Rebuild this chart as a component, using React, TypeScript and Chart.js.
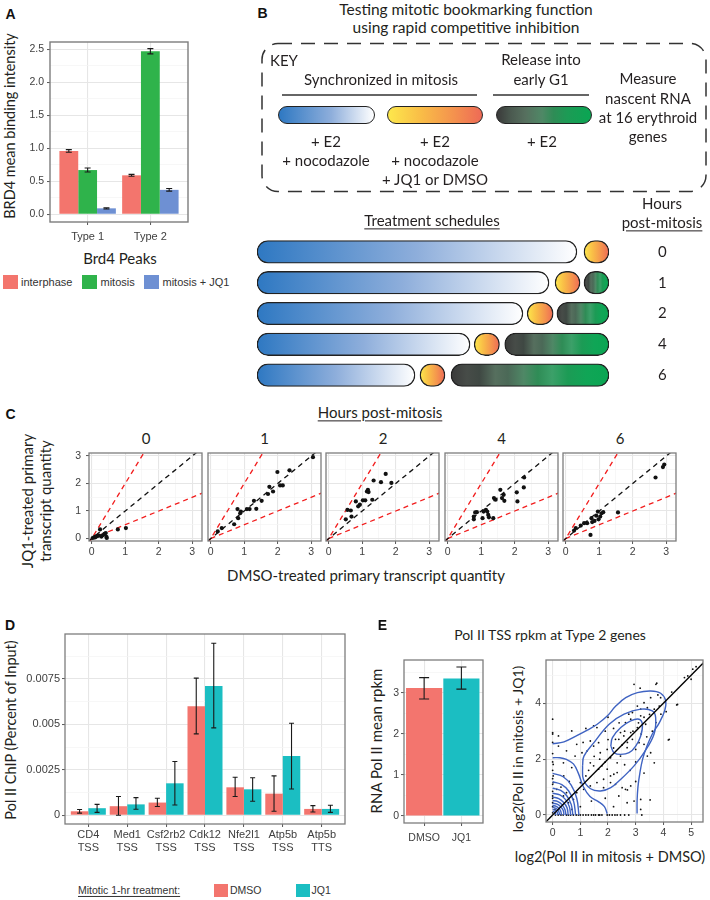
import React, { useEffect, useRef } from 'react';
import { Chart, registerables } from 'chart.js';

Chart.register(...registerables);

const MY = "Lato, 'Open Sans', sans-serif";
const AR = "'Liberation Sans', Arial, Helvetica, sans-serif";
const INK = '#231f20';
const GRID_MAJOR = '#e6e6e6';
const GRID_MINOR = '#f3f3f3';
const TICK_MARK = '#555555';
const TICK_TXT = '#404040';
const BOX_COL = '#7d7d7d';

// ---------------- Panel A data ----------------
const peakTypes = ['Type 1', 'Type 2'];
const interphaseMean = [0.96, 0.59];
const interphaseErr = [0.02, 0.015];
const mitosisMean = [0.67, 2.47];
const mitosisErr = [0.03, 0.04];
const mitosisJQ1Mean = [0.09, 0.37];
const mitosisJQ1Err = [0.01, 0.02];
const brd4Major = [0, 0.5, 1, 1.5, 2, 2.5];
const brd4Minor = [0.25, 0.75, 1.25, 1.75, 2.25];
const COL_INTER = '#f3756d';
const COL_MIT = '#2fb34b';
const COL_JQ1A = '#6e90d3';

// ---------------- Panel B data (hours along schedule) ----------------
const scheduleHours = ['0', '1', '2', '4', '6'];
const syncStart = [0, 0, 0, 0, 0];
const syncEnd = [12.27, 11.2, 10.2, 8.17, 6.06];
const inhibStart = [12.54, 11.43, 10.36, 8.33, 6.25];
const inhibEnd = [13.5, 12.39, 11.36, 9.3, 7.21];
const releaseStart = [null, 12.54, 11.5, 9.5, 7.44];
const releaseEnd = [null, 13.5, 13.5, 13.5, 13.5];

// ---------------- Panel C data ----------------
const facetHours = ['0', '1', '2', '4', '6'];
const dmsoH0 = [0.03, 0.08, 0.1, 0.12, 0.15, 0.18, 0.22, 0.25, 0.29, 0.33, 0.38, 0.42, 0.44, 0.45, 0.78, 1.02];
const jq1H0 = [0.02, 0.05, 0.04, 0.07, 0.08, 0.1, 0.11, 0.33, 0.07, 0.12, 0.17, 0.2, 0.06, 0.02, 0.33, 0.38];
const dmsoH1 = [0.21, 0.33, 0.7, 0.82, 0.8, 0.9, 0.88, 1.08, 1.16, 1.29, 1.36, 1.52, 1.71, 1.75, 1.86, 2.07, 2.15, 1.99, 2.35, 3.05];
const jq1H1 = [0.26, 0.38, 0.52, 0.74, 1.07, 0.98, 0.92, 1.07, 1.07, 1.37, 1.08, 1.37, 1.62, 1.88, 1.71, 1.93, 1.93, 2.42, 2.48, 2.96];
const dmsoH2 = [0.51, 0.56, 0.66, 0.68, 0.81, 0.88, 0.93, 1.02, 1.09, 1.14, 1.17, 1.19, 1.3, 1.34, 1.56, 1.7, 1.87];
const jq1H2 = [0.7, 1.04, 1.02, 0.8, 1.35, 1.17, 1.23, 1.39, 1.39, 1.71, 1.77, 1.69, 1.41, 2.11, 2.05, 2.35, 2.02];
const dmsoH4 = [0.78, 0.82, 0.87, 0.78, 1.04, 1.07, 1.14, 1.18, 1.21, 1.23, 1.36, 1.38, 1.43, 1.57, 1.62, 1.67, 1.69, 2.06, 2.08, 2.27, 2.28];
const jq1H4 = [0.8, 0.95, 0.96, 0.7, 0.74, 0.98, 1.04, 0.98, 0.86, 0.77, 0.74, 1.47, 1.41, 1.77, 1.47, 1.59, 1.37, 1.68, 1.35, 1.86, 2.22];
const dmsoH6 = [0.25, 0.3, 0.45, 0.55, 0.64, 0.77, 0.79, 0.86, 0.91, 0.96, 0.98, 1.03, 1.07, 1.12, 0.74, 1.56, 2.68, 2.9, 2.94];
const jq1H6 = [0.29, 0.38, 0.47, 0.56, 0.56, 0.74, 0.6, 0.64, 0.83, 0.98, 0.7, 0.8, 0.92, 0.96, 0.13, 0.95, 2.22, 2.6, 2.69];
const facetDMSO = [dmsoH0, dmsoH1, dmsoH2, dmsoH4, dmsoH6];
const facetJQ1 = [jq1H0, jq1H1, jq1H2, jq1H4, jq1H6];
const refSlopes = [2, 1, 0.5];
const refLineX = [-0.5, 3.6];
const cMajor = [0, 1, 2, 3];
const cMinor = [0.5, 1.5, 2.5];

// ---------------- Panel D data ----------------
const chipSites = [['CD4', 'TSS'], ['Med1', 'TSS'], ['Csf2rb2', 'TSS'], ['Cdk12', 'TSS'], ['Nfe2l1', 'TSS'], ['Atp5b', 'TSS'], ['Atp5b', 'TTS']];
const chipDMSO = [0.00022, 0.0005, 0.0007, 0.006, 0.00154, 0.00119, 0.00035];
const chipDMSOLo = [0.00012, 0.0, 0.00048, 0.00448, 0.00103, 0.00022, 0.00018];
const chipDMSOHi = [0.00032, 0.00103, 0.00094, 0.00755, 0.00209, 0.00217, 0.00053];
const chipJQ1 = [0.00039, 0.0006, 0.00176, 0.00712, 0.00143, 0.00327, 0.00035];
const chipJQ1Lo = [0.00016, 0.00033, 0.00057, 0.00481, 0.00077, 0.00145, 0.00016];
const chipJQ1Hi = [0.0006, 0.00097, 0.00296, 0.00947, 0.00207, 0.00507, 0.00055];
const chipYTicks = [0, 0.0025, 0.005, 0.0075];
const chipYTickLabels = ['0', '0.0025', '0.005', '0.0075'];
const chipYMinor = [0.00125, 0.00375, 0.00625, 0.00875];
const COL_DMSO = '#f3756e';
const COL_JQ1 = '#1bbec2';

// ---------------- Panel E data ----------------
const rpkmGroups = ['DMSO', 'JQ1'];
const rpkmMean = [3.12, 3.35];
const rpkmLo = [2.85, 3.09];
const rpkmHi = [3.37, 3.63];

// log2 Pol II TSS rpkm per gene: [DMSO, JQ1]
const polScatter = [
  [5.18, 5.31], [5.06, 5.22], [4.88, 4.98], [4.76, 4.92], [5.0, 4.86], [4.51, 3.96], [4.21, 2.71], [3.73, 4.68], [2.94, 4.68], [3.54, 4.2],
  [3.3, 4.02], [3.42, 3.84], [3.18, 3.79], [3.06, 3.9], [2.88, 3.67], [2.75, 3.61], [2.82, 3.43], [2.63, 3.31], [3.18, 3.55], [3.67, 3.79],
  [3.85, 3.9], [3.91, 3.61], [3.73, 3.31], [3.36, 3.25], [3.06, 3.13], [2.82, 2.95], [2.57, 2.83], [2.45, 2.95], [2.39, 2.71], [2.27, 2.71],
  [2.88, 2.71], [3.12, 2.59], [3.3, 2.53], [3.0, 2.35], [2.69, 2.41], [3.54, 2.23], [3.42, 2.11], [3.67, 1.87], [2.45, 2.11], [2.33, 1.87],
  [2.09, 2.05], [1.97, 2.35], [1.72, 2.23], [1.48, 2.47], [1.66, 2.59], [1.36, 2.65], [1.48, 3.19], [1.6, 3.13], [0.69, 3.01], [0.87, 2.53],
  [0.21, 2.83], [0.0, 3.43], [0.0, 2.95], [0.21, 2.47], [0.02, 1.81], [0.39, 1.87], [0.69, 1.7], [0.81, 2.11], [1.06, 2.23], [1.24, 2.29],
  [1.36, 1.87], [1.48, 1.76], [1.66, 1.64], [1.78, 1.76], [1.97, 1.64], [2.09, 1.4], [2.21, 1.46], [2.33, 1.52], [1.84, 1.28], [2.09, 1.16],
  [2.27, 1.1], [2.51, 0.98], [2.63, 0.92], [2.82, 1.04], [2.39, 0.68], [2.69, 0.44], [3.18, 0.56], [2.94, 0.5], [1.84, 0.98], [1.6, 1.16],
  [1.36, 1.04], [1.12, 0.92], [1.0, 1.16], [0.87, 0.8], [0.75, 0.56], [0.57, 0.44], [0.39, 0.68], [0.15, 0.92], [0.02, 1.4], [0.02, 1.16],
  [0.0, 0.68], [0.0, 0.44], [0.08, 0.2], [0.0, 0.08], [0.1, 0], [0.2, 0], [0.3, 0], [0.38, 0], [0.5, 0], [0.57, 0],
  [0.65, 0], [0.75, 0], [0.85, 0], [0.93, 0], [1.0, 0], [1.1, 0], [1.2, 0], [1.29, 0], [1.4, 0], [1.48, 0],
  [1.55, 0], [1.66, 0], [1.7, 0], [1.78, 0], [1.97, 0], [2.05, 0], [2.15, 0], [2.25, 0], [2.33, 0], [2.45, 0],
  [2.6, 0], [2.75, 0], [3.22, 0], [3.18, 0.2], [3.16, 4.54], [3.76, 4.72], [4.48, 3.94], [4.18, 2.69], [3.52, 0.54], [0.0, 0.3],
  [0.0, 0.6], [0.0, 0.85], [0.0, 1.1], [0.0, 1.3], [0.0, 1.6], [0.0, 1.9], [0.0, 2.2], [0.0, 2.6], [0.0, 2.9], [2.5, 2.5],
  [2.7, 2.6], [2.6, 3.0], [2.9, 3.0], [3.1, 3.3], [3.3, 3.5], [3.5, 3.6], [2.2, 2.4], [2.0, 2.7], [1.9, 1.9], [1.7, 2.0],
  [1.5, 2.1], [1.3, 1.6], [1.2, 1.4], [2.6, 1.8], [2.8, 1.6], [3.0, 1.9], [3.2, 2.9], [3.4, 2.8], [3.6, 3.0], [2.4, 3.3],
  [2.2, 3.1], [1.9, 3.0], [1.1, 2.6], [0.5, 2.3], [0.4, 1.4], [0.6, 1.2], [0.3, 1.0], [0.5, 0.8], [1.4, 0.5], [1.9, 0.6],
  [2.2, 0.3], [1.0, 0.3], [0.7, 0.2], [3.9, 4.2], [4.1, 3.7], [3.8, 4.3], [4.3, 4.4], [2.0, 3.5], [1.2, 3.1], [2.7, 0.9],
  [3.0, 1.2], [3.3, 1.5],
];

// 2D density contour paths: [DMSO, JQ1]
const contourOuter = [[0, 2.55], [0.41, 2.62], [0.89, 2.85], [1.25, 3.04], [1.61, 3.25], [1.98, 3.55], [2.28, 3.9], [2.64, 4.2], [3.06, 4.38], [3.54, 4.44], [3.9, 4.36], [4.08, 4.1], [4.05, 3.75], [3.85, 3.3], [3.6, 2.9], [3.4, 2.45], [3.25, 2.0], [3.15, 1.5], [3.08, 1.0], [3.05, 0.5], [3.05, 0.05]];
const contourSecond = [[0, 2.05], [0.26, 2.05], [0.5, 1.99], [0.75, 1.83], [0.93, 1.49], [1.11, 1.01], [1.35, 0.66], [1.65, 0.48], [1.87, 0.3], [1.97, 0.05]];
const contourMiddle = [[1.08, 1.76], [1.13, 2.11], [1.49, 2.59], [2.04, 3.25], [2.58, 3.61], [3.18, 3.79], [3.6, 3.73], [3.72, 3.49], [3.66, 2.89], [3.3, 2.23], [2.94, 1.76], [2.46, 1.28], [2.1, 0.98], [1.73, 0.86], [1.37, 0.94], [1.11, 1.28], [1.08, 1.76]];
const contourInner = [[2.1, 2.47], [2.16, 2.77], [2.46, 3.13], [2.82, 3.37], [3.12, 3.43], [3.24, 3.25], [3.18, 2.83], [3.0, 2.47], [2.76, 2.23], [2.46, 2.17], [2.22, 2.23], [2.1, 2.47]];
const contourOrigin = [
  [[0, 1.49], [0.38, 1.37], [0.67, 1.07], [0.87, 0.6], [0.95, 0]],
  [[0, 1.19], [0.33, 1.09], [0.58, 0.86], [0.76, 0.48], [0.83, 0]],
  [[0, 0.96], [0.29, 0.88], [0.51, 0.69], [0.67, 0.38], [0.73, 0]],
  [[0, 0.78], [0.26, 0.72], [0.46, 0.56], [0.6, 0.31], [0.65, 0]],
  [[0, 0.64], [0.22, 0.59], [0.39, 0.46], [0.52, 0.26], [0.56, 0]],
  [[0, 0.52], [0.19, 0.48], [0.34, 0.37], [0.44, 0.21], [0.48, 0]],
  [[0, 0.42], [0.16, 0.39], [0.29, 0.3], [0.38, 0.17], [0.41, 0]],
  [[0, 0.34], [0.13, 0.31], [0.22, 0.24], [0.29, 0.14], [0.32, 0]],
  [[0, 0.27], [0.1, 0.25], [0.18, 0.19], [0.23, 0.11], [0.25, 0]],
  [[0, 0.2], [0.07, 0.18], [0.13, 0.14], [0.17, 0.08], [0.18, 0]],
  [[0, 0.13], [0.04, 0.12], [0.08, 0.09], [0.1, 0.05], [0.11, 0]],
];
const diagonalX = [-0.5, 5.8];
const CONTOUR = '#3f63c2';

// ---------------- plugins ----------------
const boxPlugin = {
  id: 'panelBox',
  afterDraw(chart: any, _a: any, opts: any) {
    if (!opts || !opts.color) return;
    const { ctx, chartArea: a } = chart;
    ctx.save();
    ctx.strokeStyle = opts.color;
    ctx.lineWidth = opts.width || 1;
    ctx.strokeRect(a.left, a.top, a.right - a.left, a.bottom - a.top);
    ctx.restore();
  },
};

const errorBarPlugin = {
  id: 'errorBars',
  afterDatasetsDraw(chart: any, _a: any, opts: any) {
    const { ctx } = chart;
    const ys = chart.scales.y;
    const cap = (opts && opts.cap) || 3;
    chart.data.datasets.forEach((ds: any, i: number) => {
      if (!ds.errLo) return;
      chart.getDatasetMeta(i).data.forEach((el: any, j: number) => {
        const lo = ds.errLo[j];
        const hi = ds.errHi[j];
        if (lo == null || hi == null) return;
        const x = el.x;
        const y1 = ys.getPixelForValue(lo);
        const y2 = ys.getPixelForValue(hi);
        ctx.save();
        ctx.strokeStyle = '#1a1a1a';
        ctx.lineWidth = 1.1;
        ctx.beginPath();
        ctx.moveTo(x, y1); ctx.lineTo(x, y2);
        ctx.moveTo(x - cap, y1); ctx.lineTo(x + cap, y1);
        ctx.moveTo(x - cap, y2); ctx.lineTo(x + cap, y2);
        ctx.stroke();
        ctx.restore();
      });
    });
  },
};

Chart.register(boxPlugin as any, errorBarPlugin as any);

// ---------------- helpers ----------------
type Box = { left: number; top: number; width: number; height: number };
type Plot = { x0: number; y0: number; x1: number; y1: number };
type Marg = { l: number; t: number; r: number; b: number };

const boxOf = (p: Plot, m: Marg): Box => ({
  left: p.x0 - m.l,
  top: p.y0 - m.t,
  width: p.x1 - p.x0 + m.l + m.r,
  height: p.y1 - p.y0 + m.t + m.b,
});
const padOf = (m: Marg) => ({ left: 0, top: m.t, right: m.r, bottom: 0 });

const common = { responsive: false, animation: false, events: [] as any[] };
const noLegend = { legend: { display: false }, tooltip: { enabled: false } };

function valueAxis(o: any) {
  const all = [...o.major, ...(o.minor || [])].sort((a: number, b: number) => a - b);
  const isMajor = (v: number) => o.major.some((m: number) => Math.abs(m - v) < 1e-9);
  const showTicks = o.showTicks !== false;
  return {
    type: 'linear',
    position: o.vertical ? 'left' : 'bottom',
    min: o.min,
    max: o.max,
    bounds: 'data',
    offset: false,
    afterBuildTicks: (ax: any) => {
      ax.ticks = all.map((v: number) => ({ value: v }));
    },
    afterFit: (s: any) => {
      if (o.vertical) s.width = o.size;
      else s.height = o.size;
      s.paddingTop = 0; s.paddingBottom = 0; s.paddingLeft = 0; s.paddingRight = 0;
    },
    border: { display: false },
    grid: {
      display: true,
      offset: false,
      drawTicks: true,
      tickLength: 3,
      tickWidth: 1,
      color: (c: any) => (c.tick && isMajor(c.tick.value) ? GRID_MAJOR : GRID_MINOR),
      lineWidth: (c: any) => (c.tick && isMajor(c.tick.value) ? 1.1 : 0.7),
      tickColor: (c: any) => (showTicks && c.tick && isMajor(c.tick.value) ? TICK_MARK : 'rgba(0,0,0,0)'),
    },
    ticks: {
      display: o.showLabels !== false,
      autoSkip: false,
      maxRotation: 0,
      minRotation: 0,
      padding: o.pad ?? 2,
      color: TICK_TXT,
      font: { family: AR, size: o.fontSize ?? 10 },
      callback: (v: number) => (isMajor(v) ? o.label(v) : ''),
    },
  };
}

function barSet(label: string, means: number[], lo: number[], hi: number[], color: any, pct = 0.9) {
  return {
    label,
    data: means.map((v, i) => ({ x: i + 1, y: v })),
    errLo: lo,
    errHi: hi,
    backgroundColor: color,
    borderWidth: 0,
    categoryPercentage: pct,
    barPercentage: 1,
  };
}

function ChartCanvas({ box, make }: { box: Box; make: () => any }) {
  const ref = useRef<HTMLCanvasElement | null>(null);
  useEffect(() => {
    const c = new Chart(ref.current as HTMLCanvasElement, make());
    return () => c.destroy();
  }, []);
  return (
    <canvas
      ref={ref}
      width={box.width}
      height={box.height}
      style={{ position: 'absolute', left: box.left, top: box.top, width: box.width, height: box.height }}
    />
  );
}

function T(props: any) {
  const { x, y, s = 15, f = MY, c = INK, a = 'c', r = 0, w = 400, u = false, children } = props;
  const tx = a === 'c' ? '-50%' : a === 'r' ? '-100%' : '0';
  return (
    <div
      style={{
        position: 'absolute',
        left: x,
        top: y,
        transform: `translate(${tx},-50%) rotate(${r}deg)`,
        fontFamily: f,
        fontSize: s,
        fontWeight: w,
        color: c,
        whiteSpace: 'nowrap',
        lineHeight: 1.15,
        textDecoration: u ? 'underline' : 'none',
        textUnderlineOffset: 2,
      }}
    >
      {children}
    </div>
  );
}

function Swatch({ x, y, w, h, color }: any) {
  return <div style={{ position: 'absolute', left: x, top: y, width: w, height: h, background: color }} />;
}

// ---------------- Panel A ----------------
const A_PLOT: Plot = { x0: 50, y0: 42, x1: 188, y1: 222 };
const A_M: Marg = { l: 24, t: 4, r: 4, b: 22 };
function configA() {
  const lo = (m: number[], e: number[]) => m.map((v, i) => v - e[i]);
  const hi = (m: number[], e: number[]) => m.map((v, i) => v + e[i]);
  return {
    type: 'bar',
    data: {
      datasets: [
        barSet('interphase', interphaseMean, lo(interphaseMean, interphaseErr), hi(interphaseMean, interphaseErr), COL_INTER),
        barSet('mitosis', mitosisMean, lo(mitosisMean, mitosisErr), hi(mitosisMean, mitosisErr), COL_MIT),
        barSet('mitosis + JQ1', mitosisJQ1Mean, lo(mitosisJQ1Mean, mitosisJQ1Err), hi(mitosisJQ1Mean, mitosisJQ1Err), COL_JQ1A),
      ],
    },
    options: {
      ...common,
      layout: { padding: padOf(A_M) },
      scales: {
        x: valueAxis({ vertical: false, size: A_M.b, min: 0.4, max: 2.6, major: [1, 2], label: (v: number) => peakTypes[Math.round(v) - 1], fontSize: 11, pad: 5 }),
        y: valueAxis({ vertical: true, size: A_M.l, min: -0.117, max: 2.61, major: brd4Major, minor: brd4Minor, label: (v: number) => v.toFixed(1), fontSize: 10.5, pad: 3 }),
      },
      plugins: { ...noLegend, panelBox: { color: BOX_COL, width: 1.4 }, errorBars: { cap: 3 } },
    },
  };
}

// ---------------- Panel B (treatment schedules) ----------------
const B_BOX: Box = { left: 250, top: 230, width: 460, height: 167 };
const BLUE_STOPS: [number, string][] = [[0, '#2e78c2'], [0.5, '#8eaedb'], [1, '#ffffff']];
const YELLOW_STOPS: [number, string][] = [[0, '#fde84c'], [0.35, '#f9bd47'], [0.7, '#f4924e'], [1, '#ee6a56']];
const GREEN_STOPS: [number, string][] = [
  [0, '#3a3a3a'], [0.1, '#474c48'], [0.18, '#3f4843'], [0.28, '#566f5e'], [0.36, '#4b6957'], [0.46, '#4f8866'],
  [0.55, '#2f8c56'], [0.64, '#3ca069'], [0.74, '#1c9b55'], [0.86, '#10a556'], [1, '#0aa653'],
];
function gradFill(stops: [number, string][]) {
  return (c: any) => {
    const chart = c.chart;
    const raw = c.raw;
    if (!chart.chartArea || !Array.isArray(raw)) return stops[0][1];
    const xs = chart.scales.x;
    const a = xs.getPixelForValue(raw[0]);
    const b = xs.getPixelForValue(raw[1]);
    const g = chart.ctx.createLinearGradient(a, 0, b, 0);
    stops.forEach(([o, col]) => g.addColorStop(o, col));
    return g;
  };
}
function configB() {
  const seg = (label: string, s: (number | null)[], e: (number | null)[], stops: [number, string][]) => ({
    label,
    data: s.map((v, i) => (v == null || e[i] == null ? null : [v, e[i]])),
    backgroundColor: gradFill(stops),
    borderColor: '#222222',
    borderWidth: 1.3,
    borderRadius: 12,
    borderSkipped: false,
    barThickness: 22.5,
    grouped: false,
  });
  return {
    type: 'bar',
    data: {
      labels: scheduleHours,
      datasets: [
        seg('Synchronized (+E2 +nocodazole)', syncStart, syncEnd, BLUE_STOPS),
        seg('+JQ1 or DMSO', inhibStart, inhibEnd, YELLOW_STOPS),
        seg('Release into early G1', releaseStart, releaseEnd, GREEN_STOPS),
      ],
    },
    options: {
      ...common,
      indexAxis: 'y',
      layout: { padding: { left: 7, top: 6.5, right: 0, bottom: 6.5 } },
      scales: {
        x: { type: 'linear', display: false, min: 0, max: 13.5 },
        y: {
          type: 'category',
          position: 'right',
          offset: true,
          grid: { display: false, drawTicks: false },
          border: { display: false },
          ticks: { padding: 49, color: INK, font: { family: MY, size: 15 } },
          afterFit: (s: any) => {
            s.width = 101;
            s.paddingTop = 0; s.paddingBottom = 0; s.paddingLeft = 0; s.paddingRight = 0;
          },
        },
      },
      plugins: { ...noLegend },
    },
  };
}

// ---------------- Panel C ----------------
const facetLeft = [89, 207.5, 326, 444.5, 563];
const C_W = 114;
function cPlot(i: number): Plot {
  return { x0: facetLeft[i], y0: 453, x1: facetLeft[i] + C_W, y1: 541 };
}
function cMarg(i: number): Marg {
  return { l: i === 0 ? 22 : 4, t: 4, r: 3, b: 16 };
}
function configC(i: number) {
  const m = cMarg(i);
  const xs = facetDMSO[i];
  const ys = facetJQ1[i];
  const ref = (slope: number, color: string) => ({
    data: refLineX.map((x) => ({ x, y: slope * x })),
    showLine: true,
    borderColor: color,
    borderWidth: 1.3,
    borderDash: [5, 4],
    pointRadius: 0,
    fill: false,
  });
  return {
    type: 'scatter',
    data: {
      datasets: [
        {
          data: xs.map((x, k) => ({ x, y: ys[k] })),
          pointRadius: 2.1,
          backgroundColor: '#111111',
          borderWidth: 0,
        },
        ref(refSlopes[1], '#111111'),
        ref(refSlopes[0], '#f21d1d'),
        ref(refSlopes[2], '#f21d1d'),
      ],
    },
    options: {
      ...common,
      layout: { padding: padOf(m) },
      scales: {
        x: valueAxis({ vertical: false, size: m.b, min: -0.08, max: 3.29, major: cMajor, minor: cMinor, label: (v: number) => String(v), fontSize: 10.5, pad: 1.5 }),
        y: valueAxis({ vertical: true, size: m.l, min: -0.09, max: 3.11, major: cMajor, minor: cMinor, label: (v: number) => String(v), fontSize: 10.5, pad: 5, showLabels: i === 0, showTicks: i === 0 }),
      },
      plugins: { ...noLegend, panelBox: { color: BOX_COL, width: 1.3 } },
    },
  };
}

// ---------------- Panel D ----------------
const D_PLOT: Plot = { x0: 65, y0: 634, x1: 345, y1: 824 };
const D_M: Marg = { l: 42, t: 4, r: 4, b: 32 };
function configD() {
  return {
    type: 'bar',
    data: {
      datasets: [
        barSet('DMSO', chipDMSO, chipDMSOLo, chipDMSOHi, COL_DMSO),
        barSet('JQ1', chipJQ1, chipJQ1Lo, chipJQ1Hi, COL_JQ1),
      ],
    },
    options: {
      ...common,
      layout: { padding: padOf(D_M) },
      scales: {
        x: valueAxis({ vertical: false, size: D_M.b, min: 0.4, max: 7.6, major: [1, 2, 3, 4, 5, 6, 7], label: (v: number) => chipSites[Math.round(v) - 1], fontSize: 11, pad: 1.5 }),
        y: valueAxis({
          vertical: true, size: D_M.l, min: -0.00048, max: 0.00998, major: chipYTicks, minor: chipYMinor,
          label: (v: number) => chipYTickLabels[chipYTicks.findIndex((t) => Math.abs(t - v) < 1e-9)], fontSize: 11, pad: 2,
        }),
      },
      plugins: { ...noLegend, panelBox: { color: BOX_COL, width: 1.3 }, errorBars: { cap: 2.5 } },
    },
  };
}

// ---------------- Panel E (bars) ----------------
const E1_PLOT: Plot = { x0: 404, y0: 660, x1: 483, y1: 823 };
const E1_M: Marg = { l: 16, t: 4, r: 4, b: 24 };
function configE1() {
  return {
    type: 'bar',
    data: {
      datasets: [barSet('Pol II rpkm', rpkmMean, rpkmLo, rpkmHi, [COL_DMSO, COL_JQ1], 0.97)],
    },
    options: {
      ...common,
      layout: { padding: padOf(E1_M) },
      scales: {
        x: valueAxis({ vertical: false, size: E1_M.b, min: 0.46, max: 2.58, major: [1, 2], label: (v: number) => rpkmGroups[Math.round(v) - 1], fontSize: 10.5, pad: 6 }),
        y: valueAxis({ vertical: true, size: E1_M.l, min: -0.17, max: 3.8, major: [0, 1, 2, 3], minor: [0.5, 1.5, 2.5, 3.5], label: (v: number) => String(v), fontSize: 10.5, pad: 2 }),
      },
      plugins: { ...noLegend, panelBox: { color: BOX_COL, width: 1.3 }, errorBars: { cap: 5 } },
    },
  };
}

// ---------------- Panel E (scatter + density contours) ----------------
const E2_PLOT: Plot = { x0: 546, y0: 660, x1: 703, y1: 822 };
const E2_M: Marg = { l: 14, t: 4, r: 4, b: 18 };
function configE2() {
  const path = (pts: number[][]) => ({
    data: pts.map(([x, y]) => ({ x, y })),
    showLine: true,
    borderColor: CONTOUR,
    borderWidth: 1.4,
    pointRadius: 0,
    tension: 0.4,
    fill: false,
  });
  return {
    type: 'scatter',
    data: {
      datasets: [
        {
          data: diagonalX.map((x) => ({ x, y: x })),
          showLine: true,
          borderColor: '#000000',
          borderWidth: 1.4,
          pointRadius: 0,
          fill: false,
        },
        path(contourOuter),
        path(contourSecond),
        path(contourMiddle),
        path(contourInner),
        ...contourOrigin.map(path),
        {
          data: polScatter.map(([x, y]) => ({ x, y })),
          pointRadius: 0.9,
          backgroundColor: '#111111',
          borderWidth: 0,
        },
      ],
    },
    options: {
      ...common,
      layout: { padding: padOf(E2_M) },
      scales: {
        x: valueAxis({ vertical: false, size: E2_M.b, min: -0.24, max: 5.43, major: [0, 1, 2, 3, 4, 5], minor: [0.5, 1.5, 2.5, 3.5, 4.5], label: (v: number) => String(v), fontSize: 10.5, pad: 1.5 }),
        y: valueAxis({ vertical: true, size: E2_M.l, min: -0.25, max: 5.55, major: [0, 2, 4], minor: [1, 3, 5], label: (v: number) => String(v), fontSize: 10.5, pad: 2 }),
      },
      plugins: { ...noLegend, panelBox: { color: BOX_COL, width: 1.3 } },
    },
  };
}

const pill = (x0: number, x1: number, bg: string) => (
  <div
    style={{
      position: 'absolute',
      left: x0,
      top: 105.5,
      width: x1 - x0,
      height: 18.5,
      boxSizing: 'border-box',
      border: '1.3px solid #222',
      borderRadius: 10,
      background: bg,
    }}
  />
);

export default function App() {
  return (
    <div style={{ position: 'absolute', left: 0, top: 0, width: 710, height: 900, background: '#ffffff', overflow: 'hidden' }}>
      {/* ===== A ===== */}
      <T x={10.5} y={14} s={14} f={AR} w={700} c="#111">A</T>
      <ChartCanvas box={boxOf(A_PLOT, A_M)} make={configA} />
      <T x={10} y={126} s={14.5} r={-90}>BRD4 mean binding intensity</T>
      <T x={120} y={259} s={15}>Brd4 Peaks</T>
      <Swatch x={3} y={275} w={15} h={14} color={COL_INTER} />
      <T x={21} y={282} a="l" s={11} f={AR} c="#333">interphase</T>
      <Swatch x={82} y={275} w={15} h={14} color={COL_MIT} />
      <T x={100.5} y={282} a="l" s={11} f={AR} c="#333">mitosis</T>
      <Swatch x={144} y={275} w={15} h={14} color={COL_JQ1A} />
      <T x={162.5} y={282} a="l" s={11} f={AR} c="#333">mitosis + JQ1</T>

      {/* ===== B ===== */}
      <T x={262.5} y={12.5} s={14} f={AR} w={700} c="#111">B</T>
      <T x={466} y={9.5} s={15.5}>Testing mitotic bookmarking function</T>
      <T x={466} y={28} s={15.5}>using rapid competitive inhibition</T>
      <svg width={710} height={400} style={{ position: 'absolute', left: 0, top: 0 }}>
        <rect x={262} y={43.5} width={444} height={148} rx={16} ry={16} fill="none" stroke="#333" strokeWidth={1.5} strokeDasharray="14 9" />
        <line x1={282} y1={95} x2={477} y2={95} stroke="#333" strokeWidth={1.3} />
        <line x1={493} y1={95} x2={589} y2={95} stroke="#333" strokeWidth={1.3} />
      </svg>
      <T x={270} y={61} a="l" s={15}>KEY</T>
      <T x={381} y={80} s={15}>Synchronized in mitosis</T>
      <T x={541} y={60} s={15}>Release into</T>
      <T x={541} y={80} s={15}>early G1</T>
      {pill(278, 374.5, 'linear-gradient(90deg, #2e78c2 0%, #8eaedb 55%, #ffffff 100%)')}
      {pill(387, 483, 'linear-gradient(90deg, #fde84c 0%, #f9bd47 35%, #f4924e 70%, #ee6a56 100%)')}
      {pill(496, 592, 'linear-gradient(90deg, #3a3a3a 0%, #4b5a50 15%, #566f5e 30%, #4f8866 48%, #2f8c56 60%, #1c9b55 75%, #0aa653 100%)')}
      <T x={326} y={142} s={15}>+ E2</T>
      <T x={326} y={161} s={15}>+ nocodazole</T>
      <T x={435} y={142} s={15}>+ E2</T>
      <T x={435} y={161} s={15}>+ nocodazole</T>
      <T x={435} y={180} s={15}>+ JQ1 or DMSO</T>
      <T x={542} y={142} s={15}>+ E2</T>
      <T x={648} y={79} s={15}>Measure</T>
      <T x={648} y={98.5} s={15}>nascent RNA</T>
      <T x={648} y={117.5} s={15}>at 16 erythroid</T>
      <T x={648} y={136.5} s={15}>genes</T>
      <T x={432} y={221} s={15} u>Treatment schedules</T>
      <T x={662} y={204} s={15}>Hours</T>
      <T x={662} y={223} s={15} u>post-mitosis</T>
      <ChartCanvas box={B_BOX} make={configB} />

      {/* ===== C ===== */}
      <T x={10.5} y={414} s={14} f={AR} w={700} c="#111">C</T>
      <T x={380} y={413} s={15} u>Hours post-mitosis</T>
      {facetHours.map((h, i) => (
        <T key={'fh' + i} x={facetLeft[i] + C_W / 2} y={439} s={15}>{h}</T>
      ))}
      {facetHours.map((_h, i) => (
        <ChartCanvas key={'fc' + i} box={boxOf(cPlot(i), cMarg(i))} make={() => configC(i)} />
      ))}
      <T x={28} y={501} s={15} r={-90}>JQ1-treated primary</T>
      <T x={46} y={501} s={15} r={-90}>transcript quantity</T>
      <T x={366} y={576} s={15}>DMSO-treated primary transcript quantity</T>

      {/* ===== D ===== */}
      <T x={10} y={625} s={14} f={AR} w={700} c="#111">D</T>
      <ChartCanvas box={boxOf(D_PLOT, D_M)} make={configD} />
      <T x={11} y={730} s={14.5} r={-90}>Pol II ChIP (Percent of Input)</T>
      <T x={78} y={890} a="l" s={10.5} f={AR} c="#333" u>Mitotic 1-hr treatment:</T>
      <Swatch x={214} y={884} w={14} h={13} color={COL_DMSO} />
      <T x={230} y={890} a="l" s={10.5} f={AR} c="#333">DMSO</T>
      <Swatch x={296} y={884} w={14} h={13} color={COL_JQ1} />
      <T x={311.5} y={890} a="l" s={10.5} f={AR} c="#333">JQ1</T>

      {/* ===== E ===== */}
      <T x={382.5} y={625} s={14} f={AR} w={700} c="#111">E</T>
      <T x={550} y={635} s={14}>Pol II TSS rpkm at Type 2 genes</T>
      <ChartCanvas box={boxOf(E1_PLOT, E1_M)} make={configE1} />
      <T x={377} y={741} s={15} r={-90}>RNA Pol II mean rpkm</T>
      <ChartCanvas box={boxOf(E2_PLOT, E2_M)} make={configE2} />
      <T x={517.5} y={749} s={14} r={-90}>log2(Pol II in mitosis + JQ1)</T>
      <T x={610} y={857} s={14.5}>log2(Pol II in mitosis + DMSO)</T>
    </div>
  );
}
